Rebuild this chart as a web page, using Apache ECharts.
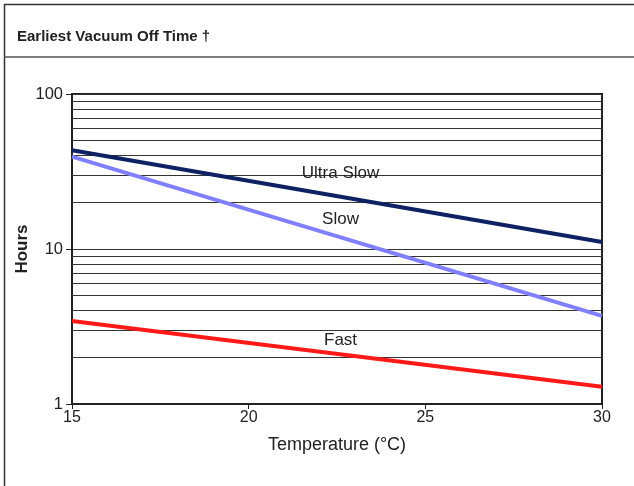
<!DOCTYPE html>
<html>
<head>
<meta charset="utf-8">
<script src="https://cdn.jsdelivr.net/npm/echarts@6/dist/echarts.min.js"></script>
<style>
  html, body { margin: 0; padding: 0; background: #fff; }
  #panel { width: 634px; height: 486px; }
</style>
</head>
<body>
<div id="panel"></div>
<script>
// temperature at the two ends of each line
const temps = [15, 30];
const ultraSlow = [43.3, 11.1];
const slow = [39.4, 3.7];
const fast = [3.43, 1.29];
// thin horizontal grid lines between decades
const minorGrid = [2, 3, 4, 5, 6, 7, 8, 9, 20, 30, 40, 50, 60, 70, 80, 90];

const FONT = 'Liberation Sans, Arial, sans-serif';
const pair = (ys) => temps.map((t, i) => [t, ys[i]]);

const textLabel = (name, coord) => ({
  coord: coord,
  symbol: 'circle',
  symbolSize: 1,
  itemStyle: { color: 'rgba(0,0,0,0)' },
  label: {
    show: true,
    position: 'inside',
    formatter: name,
    color: '#222',
    fontSize: 17,
    fontFamily: FONT,
  },
});

const myChart = echarts.init(document.getElementById('panel'));

const option = {
  backgroundColor: '#fff',
  animation: false,
  title: {
    text: 'Earliest Vacuum Off Time \u2020',
    left: 12,
    top: 24,
    textStyle: {
      fontFamily: FONT,
      fontWeight: 'bold',
      fontSize: 15,
      color: '#222',
    },
  },
  graphic: [
    // outer frame and the rule under the title
    { type: 'line', shape: { x1: 4, y1: 4.5, x2: 634, y2: 4.5 }, style: { stroke: '#333', lineWidth: 1.5 } },
    { type: 'line', shape: { x1: 4.5, y1: 4, x2: 4.5, y2: 486 }, style: { stroke: '#333', lineWidth: 1.5 } },
    { type: 'line', shape: { x1: 4, y1: 57, x2: 634, y2: 57 }, style: { stroke: '#555', lineWidth: 1.5 } },
  ],
  grid: {
    left: 72,
    right: 32,
    top: 94,
    bottom: 82,
    show: true,
    borderColor: '#222',
    borderWidth: 2,
  },
  xAxis: {
    type: 'value',
    min: 15,
    max: 30,
    interval: 5,
    name: 'Temperature (\u00B0C)',
    nameLocation: 'middle',
    nameGap: 32,
    nameMoveOverlap: false,
    nameTextStyle: { fontSize: 18, color: '#222', fontFamily: FONT },
    axisLine: { show: true, lineStyle: { color: '#222', width: 2 } },
    axisTick: { show: true, length: 5, lineStyle: { color: '#222', width: 1 } },
    axisLabel: { fontSize: 16, color: '#222', margin: 6, fontFamily: FONT },
    splitLine: { show: false },
  },
  yAxis: {
    type: 'log',
    logBase: 10,
    min: 1,
    max: 100,
    name: 'Hours',
    nameLocation: 'middle',
    nameGap: 41,
    nameMoveOverlap: false,
    nameRotate: 90,
    nameTextStyle: { fontSize: 17, fontWeight: 'bold', color: '#222', fontFamily: FONT },
    axisLine: { show: true, lineStyle: { color: '#222', width: 2 } },
    axisTick: { show: true, length: 6, lineStyle: { color: '#222', width: 1 } },
    axisLabel: { fontSize: 16.5, color: '#222', margin: 9, fontFamily: FONT },
    splitLine: { show: true, lineStyle: { color: '#333', width: 1 } },
  },
  series: [
    {
      name: 'Fast',
      type: 'line',
      data: pair(fast),
      symbol: 'none',
      lineStyle: { color: '#ff1a1a', width: 4 },
      z: 3,
      markLine: {
        silent: true,
        symbol: 'none',
        label: { show: false },
        lineStyle: { color: '#333', width: 1, type: 'solid' },
        data: minorGrid.map((v) => ({ yAxis: v })),
        z: 1,
      },
      markPoint: { silent: true, data: [textLabel('Fast', [22.6, 2.56])] },
    },
    {
      name: 'Slow',
      type: 'line',
      data: pair(slow),
      symbol: 'none',
      lineStyle: { color: '#8080ff', width: 4 },
      z: 3,
      markPoint: { silent: true, data: [textLabel('Slow', [22.6, 15.5])] },
    },
    {
      name: 'Ultra Slow',
      type: 'line',
      data: pair(ultraSlow),
      symbol: 'none',
      lineStyle: { color: '#0d2163', width: 4 },
      z: 3,
      markPoint: { silent: true, data: [textLabel('Ultra Slow', [22.6, 30.6])] },
    },
  ],
};

myChart.setOption(option);
</script>
</body>
</html>
